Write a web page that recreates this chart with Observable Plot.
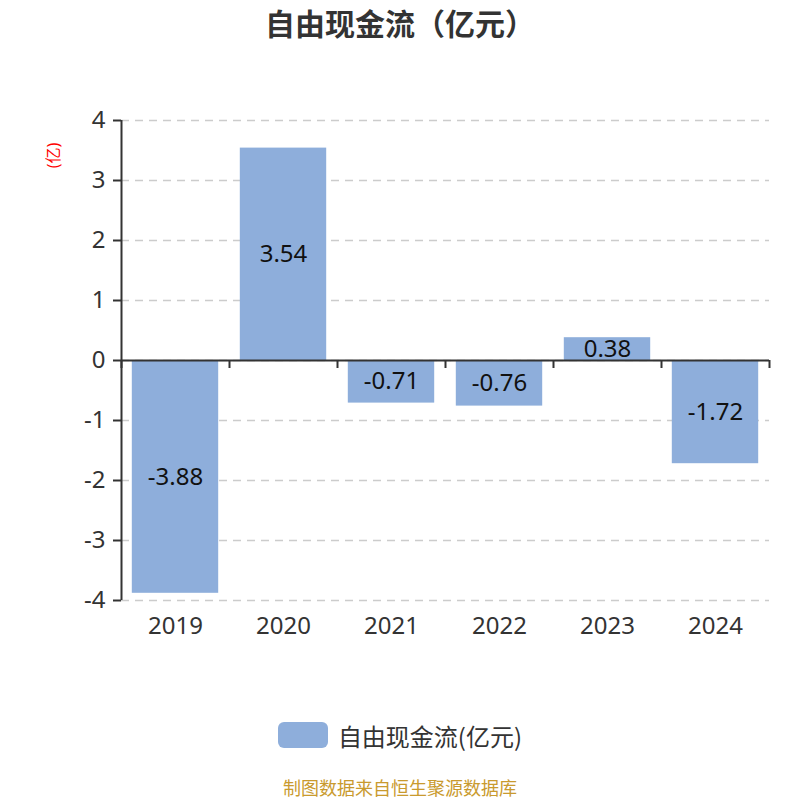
<!DOCTYPE html>
<html>
<head>
<meta charset="utf-8">
<script src="https://cdn.jsdelivr.net/npm/d3@7"></script>
<script src="https://cdn.jsdelivr.net/npm/@observablehq/plot@0.6"></script>
<style>
  body { margin: 0; background: #fff; font-family: "Noto Sans", "Noto Sans CJK SC", sans-serif; }
  #wrap { width: 800px; height: 800px; position: relative; }
  #title { height: 50px; line-height: 44px; text-align: center; font-size: 30px; font-weight: bold; color: #333; font-family: "Noto Sans CJK SC", sans-serif; }
  #legend { height: 70px; display: flex; align-items: center; justify-content: center; gap: 10px; font-size: 24px; color: #333; font-family: "Noto Sans CJK SC", sans-serif; }
  #legend .sw { width: 50px; height: 26px; border-radius: 6px; background: #8eaedb; }
  #footer { height: 26px; padding-top: 4px; line-height: 26px; text-align: center; font-size: 18px; color: #c99a2e; font-family: "Noto Sans CJK SC", sans-serif; }
</style>
</head>
<body>
<div id="wrap">
  <div id="title">自由现金流（亿元）</div>
  <div id="chart"></div>
  <div id="legend"><div class="sw"></div><span>自由现金流(亿元)</span></div>
  <div id="footer">制图数据来自恒生聚源数据库</div>
</div>
<script>
const years = ["2019", "2020", "2021", "2022", "2023", "2024"];
const values = [-3.88, 3.54, -0.71, -0.76, 0.38, -1.72];
const yTicks = [-4, -3, -2, -1, 0, 1, 2, 3, 4];
const unitLabel = "(亿)";
const barColor = "#8eaedb";

const data = years.map((y, i) => ({ i, year: y, value: values[i] }));
const boundaries = d3.range(-0.5, years.length, 1);

const chart = Plot.plot({
  width: 800,
  height: 650,
  marginTop: 70,
  marginBottom: 100,
  marginLeft: 121,
  marginRight: 31,
  style: { fontSize: "24px", color: "#333", fontFamily: "'Noto Sans', 'Noto Sans CJK SC', sans-serif", background: "transparent" },
  x: { domain: [-0.5, years.length - 0.5] },
  y: { domain: [-4, 4] },
  marks: [
    Plot.gridY(yTicks, { stroke: "#ccc", strokeOpacity: 1, strokeDasharray: "8,6", strokeWidth: 1.5 }),
    Plot.rectY(data, { x1: d => d.i - 0.4, x2: d => d.i + 0.4, y1: 0, y2: "value", fill: barColor }),
    Plot.ruleY([0], { stroke: "#333", strokeWidth: 2 }),
    Plot.ruleX(boundaries, { y1: 0, y2: 0, insetBottom: -8, stroke: "#333", strokeWidth: 2 }),
    Plot.ruleX([-0.5], { y1: -4, y2: 4, stroke: "#333", strokeWidth: 2 }),
    Plot.axisY(yTicks, { tickSize: 8, tickPadding: 8, tickFormat: d => String(d), label: null, stroke: "#333", strokeWidth: 2, fontSize: 24 }),
    Plot.axisX(d3.range(years.length), { tickSize: 0, tickPadding: 16, tickFormat: i => years[i], label: null, fontSize: 24 }),
    Plot.text(data, { x: "i", y: d => d.value / 2, text: d => String(d.value), fill: "#111", fontSize: 24 }),
    Plot.text([unitLabel], { frameAnchor: "top-left", dx: -68, dy: 35, rotate: -90, textAnchor: "middle", lineAnchor: "middle", fill: "red", fontSize: 16, text: d => d })
  ]
});
document.getElementById("chart").appendChild(chart);
</script>
</body>
</html>
